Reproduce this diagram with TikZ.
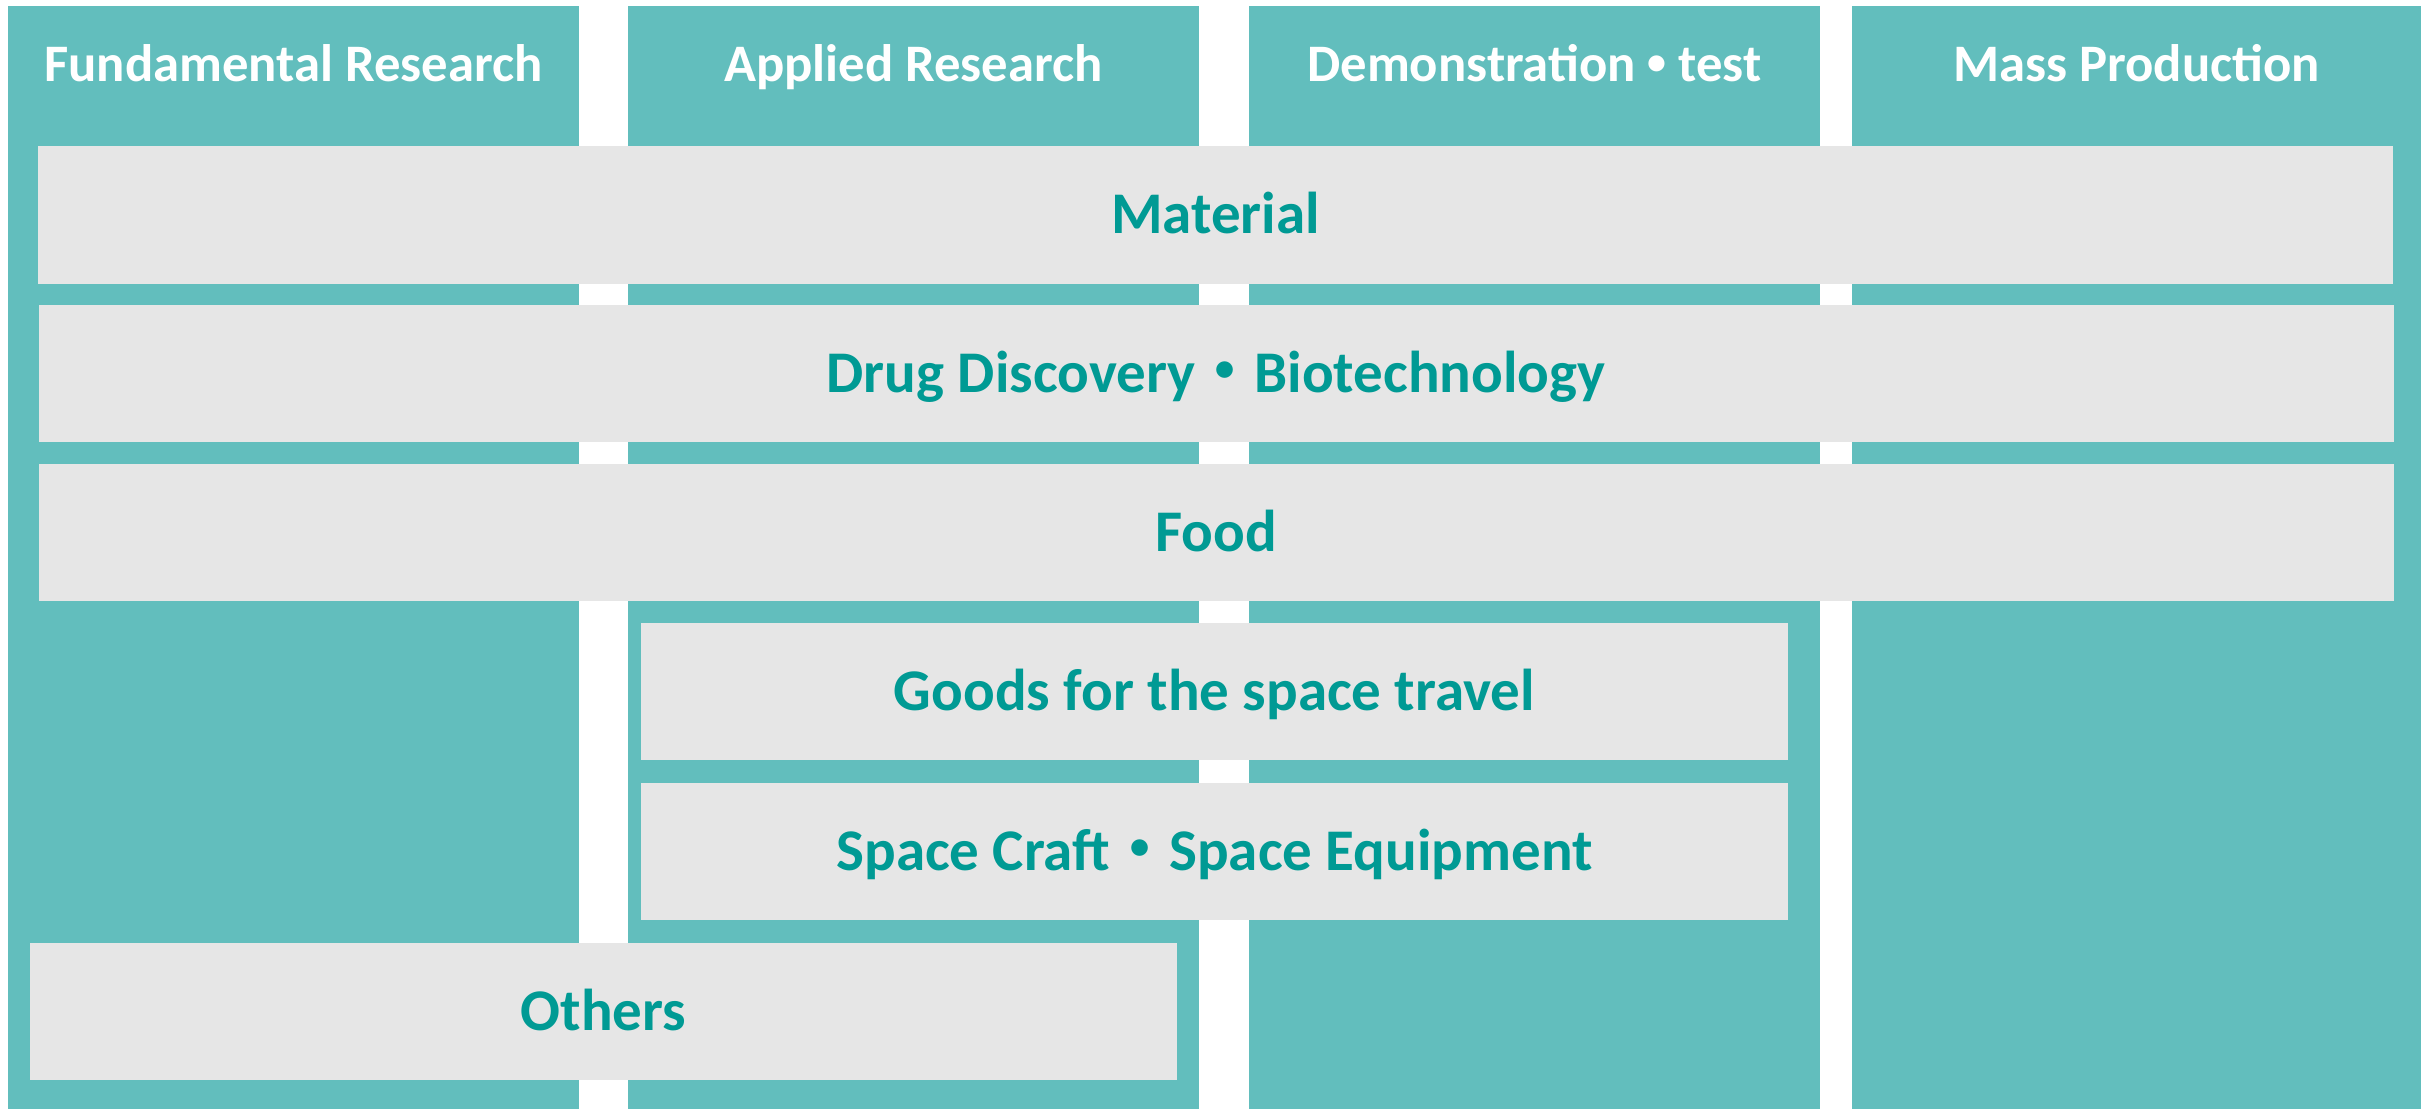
\documentclass[tikz,border=0pt]{standalone}
\usepackage{fontspec}
\usepackage{graphicx}
\setmainfont{Carlito}
\newfontfamily\cjk{Noto Sans CJK JP}
\newcommand{\smalldot}{\raisebox{0.12em}{\scalebox{0.72}{\textbullet}}}
\begin{document}
\definecolor{colteal}{HTML}{62BEBD}
\definecolor{rowgrey}{HTML}{E6E6E6}
\definecolor{inkteal}{HTML}{009A94}
\begin{tikzpicture}[x=0.1mm,y=-0.1mm,
  stage/.style={fill=colteal, draw=none, inner sep=0pt, minimum width=57.1mm, minimum height=110.3mm},
  stagelabel/.style={anchor=base, inner sep=0pt, text=white, font=\fontsize{15}{18}\selectfont\bfseries},
  field/.style={fill=rowgrey, draw=none, inner sep=0pt, minimum height=13.75mm,
    text=inkteal, text height=10.8pt, text depth=0pt, font=\fontsize{16.8}{20}\selectfont\bfseries},
  widefield/.style={field, minimum width=235.5mm},
  halffield/.style={field, minimum width=114.7mm}]
\useasboundingbox[fill=white] (0,0) rectangle (2432,1109);

% development stages (columns)
\node[stage] (c1) at (293.5,557.5) {};
\node[stage] (c2) at (913.5,557.5) {};
\node[stage] (c3) at (1534.5,557.5) {};
\node[stage, minimum width=56.9mm] (c4) at (2136.5,557.5) {};

\node[stagelabel] (h1) at (293.5,81) {Fundamental Research};
\node[stagelabel] (h2) at (913.5,81) {Applied Research};
\node[stagelabel] (h3) at (1534.5,81) {Demonstration \smalldot{} test};
\node[stagelabel] (h4) at (2136.5,81) {Mass Production};

% fields spanning the stages
\node[widefield] (material) at (1215.5,215) {Material};
\node[widefield] (drug) at (1216,373.5) {Drug Discovery{\cjk ・}Biotechnology};
\node[widefield] (food) at (1216,532.5) {Food};
\node[halffield] (goods) at (1214.5,691.5) {Goods for the space travel};
\node[halffield] (craft) at (1214.5,851.5) {Space Craft{\cjk ・}Space Equipment};
\node[halffield] (others) at (603.5,1011.5) {Others};
\end{tikzpicture}
\end{document}
